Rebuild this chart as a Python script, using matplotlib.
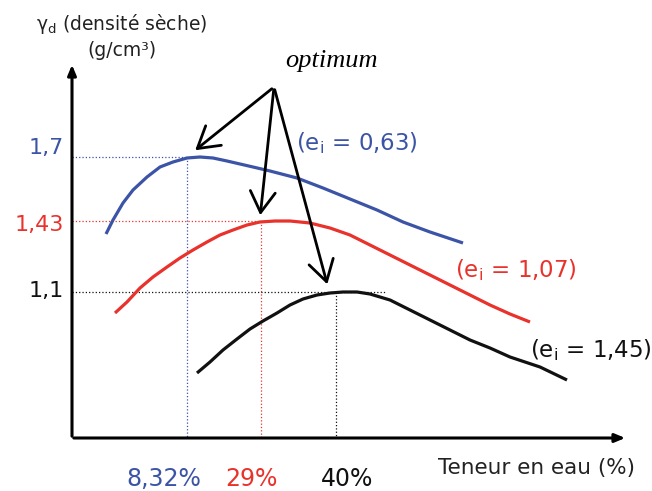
import matplotlib.pyplot as plt

plt.rcParams['font.family'] = ['DejaVu Sans']
plt.rcParams['mathtext.default'] = 'regular'

BLUE = '#3c54a5'
RED = '#e8322b'
BLACK = '#111111'

# schematic curves, in picture units (x right, y down)
blue_x = [106, 113, 123, 133, 147, 160, 173, 187, 200, 213, 227, 240, 253, 270,
          297, 323, 350, 377, 403, 430, 463]
blue_y = [234, 220, 203, 190, 177, 167, 162, 158, 157, 158, 161, 164, 167, 171,
          178, 188, 199, 210, 222, 232, 243]
red_x = [115, 127, 140, 153, 167, 180, 193, 207, 220, 233, 247, 260, 275, 290,
         310, 330, 350, 370, 390, 410, 430, 450, 470, 490, 510, 530]
red_y = [313, 302, 288, 277, 267, 258, 250, 242, 235, 230, 225, 222, 221, 221,
         223, 228, 235, 245, 255, 265, 275, 285, 295, 305, 314, 322]
black_x = [197, 210, 223, 237, 250, 263, 277, 290, 303, 317, 330, 343, 357, 370,
           390, 410, 430, 450, 470, 490, 510, 540, 567]
black_y = [373, 362, 350, 339, 329, 321, 313, 305, 299, 295, 293, 292, 292, 294,
           300, 310, 320, 330, 340, 348, 357, 367, 380]

# optimum points and their labels
opt_x = [187, 261, 336]
opt_y = [157, 221, 292]
opt_dens = ['1,7', '1,43', '1,1']
opt_water = ['8,32%', '29%', '40%']
curve_labels = ['0,63', '1,07', '1,45']
colors = [BLUE, RED, BLACK]
hline_end = [205, 290, 385]

ORIGIN_X, ORIGIN_Y = 72, 438

fig = plt.figure(figsize=(6.52, 4.91), dpi=100)
ax = fig.add_axes([0, 0, 1, 1])
ax.set_xlim(0, 652)
ax.set_ylim(491, 0)
ax.axis('off')

# axes with arrows
ax.annotate('', xy=(ORIGIN_X, 62), xytext=(ORIGIN_X, ORIGIN_Y + 1),
            arrowprops=dict(arrowstyle='-|>,head_length=0.6,head_width=0.25',
                            color='black', lw=2.2))
ax.annotate('', xy=(628, ORIGIN_Y), xytext=(ORIGIN_X - 1, ORIGIN_Y),
            arrowprops=dict(arrowstyle='-|>,head_length=0.6,head_width=0.25',
                            color='black', lw=2.2))

# dotted guide lines
for i in range(3):
    ax.plot([ORIGIN_X, hline_end[i]], [opt_y[i], opt_y[i]], ls=':', lw=0.9, color=colors[i])
    ax.plot([opt_x[i], opt_x[i]], [opt_y[i], ORIGIN_Y], ls=':', lw=0.9, color=colors[i])

ax.plot(blue_x, blue_y, color=BLUE, lw=2.3, solid_capstyle='butt', solid_joinstyle='round')
ax.plot(red_x, red_y, color=RED, lw=2.3, solid_capstyle='butt', solid_joinstyle='round')
ax.plot(black_x, black_y, color=BLACK, lw=2.3, solid_capstyle='butt', solid_joinstyle='round')

# density labels on the y axis
dens_y = [148, 225, 291]
for i in range(3):
    ax.text(64, dens_y[i], opt_dens[i], color=colors[i], fontsize=16,
            ha='right', va='center')
# water content labels under the x axis
water_x = [164, 251, 347]
for i in range(3):
    ax.text(water_x[i], 479, opt_water[i], color=colors[i], fontsize=17,
            ha='center', va='center')

# curve labels
lab_pos = [(296, 143), (455, 270), (530, 350)]
for i in range(3):
    ax.text(lab_pos[i][0], lab_pos[i][1], '(e$_{i}$ = ' + curve_labels[i] + ')',
            color=colors[i], fontsize=16.5, ha='left', va='center')

ax.text(122, 24, r'$\gamma_{d}$ (densité sèche)', fontsize=13.5, ha='center', va='center',
        color='#222222')
ax.text(122, 50, '(g/cm³)', fontsize=13.5, ha='center', va='center', color='#222222')
ax.text(537, 468, 'Teneur en eau (%)', fontsize=15.5, ha='center', va='center',
        color='#222222')

# optimum arrows
ax.text(331, 61, 'optimum', fontsize=19, family='Liberation Serif', style='italic',
        ha='center', va='center')
arrow_tips = [(193, 152), (260, 218), (328, 287)]
for tx, ty in arrow_tips:
    ax.annotate('', xy=(tx, ty), xytext=(274, 87),
                arrowprops=dict(arrowstyle='->,head_length=1.5,head_width=0.9',
                                color='black', lw=2))

fig.savefig('out.png', dpi=100)
